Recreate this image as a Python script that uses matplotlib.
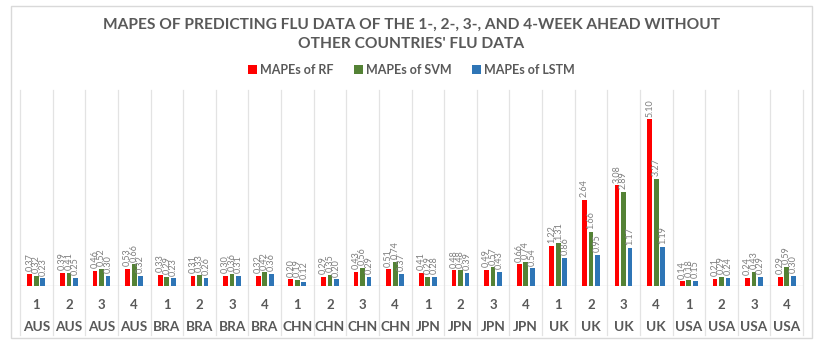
import matplotlib
matplotlib.use("Agg")
import matplotlib.pyplot as plt
from matplotlib.patches import Rectangle, Patch
import numpy as np

plt.rcParams['font.family'] = ['Lato', 'DejaVu Sans']

countries = ["AUS"] * 4 + ["BRA"] * 4 + ["CHN"] * 4 + ["JPN"] * 4 + ["UK"] * 4 + ["USA"] * 4
weeks = ["1", "2", "3", "4"] * 6
rf = [0.37, 0.39, 0.46, 0.53, 0.33, 0.31, 0.30, 0.32, 0.20, 0.29, 0.43, 0.51,
      0.41, 0.48, 0.49, 0.66, 1.22, 2.64, 3.08, 5.10, 0.14, 0.21, 0.24, 0.29]
svm = [0.32, 0.41, 0.52, 0.66, 0.29, 0.33, 0.36, 0.42, 0.19, 0.35, 0.56, 0.74,
       0.29, 0.48, 0.57, 0.74, 1.31, 1.66, 2.89, 3.27, 0.18, 0.29, 0.43, 0.59]
lstm = [0.23, 0.25, 0.30, 0.32, 0.23, 0.26, 0.31, 0.36, 0.12, 0.20, 0.29, 0.37,
        0.28, 0.39, 0.43, 0.54, 0.86, 0.95, 1.17, 1.19, 0.15, 0.24, 0.29, 0.30]
series_names = ["MAPEs of RF", "MAPEs of SVM", "MAPEs of LSTM"]
colors = ["#FF0000", "#548235", "#2E75B6"]
title = "MAPES OF PREDICTING FLU DATA OF THE 1-, 2-, 3-, AND 4-WEEK AHEAD WITHOUT\nOTHER COUNTRIES' FLU DATA"

W, H = 823, 347
fig = plt.figure(figsize=(W / 100, H / 100), dpi=100)
fig.patch.set_facecolor("white")

# chart border
fig.patches.append(Rectangle((11 / W, 1 - 338 / H), (812 - 11) / W, (338 - 6) / H,
                             transform=fig.transFigure, fill=False,
                             edgecolor="#D9D9D9", lw=1.0))

left, right, top, bottom = 20, 803, 90, 286
ax = fig.add_axes([left / W, 1 - bottom / H, (right - left) / W, (bottom - top) / H])
n = len(rf)
x = np.arange(n)
ax.set_xlim(-0.5, n - 0.5)
ax.set_ylim(0, 6)
for s in ax.spines.values():
    s.set_visible(False)
ax.set_xticks([])
ax.set_yticks([])

gray = "#595959"
bw = 0.145
offs = [-0.2, 0.0, 0.2]
for vals, c, o, name in zip([rf, svm, lstm], colors, offs, series_names):
    ax.bar(x + o, vals, width=bw, color=c, label=name, zorder=3)
    for xi, v in zip(x, vals):
        ax.annotate(f"{v:.2f}", (xi + o, v), xytext=(0, 2), textcoords="offset points",
                    rotation=90, ha="center", va="bottom", fontsize=6.5,
                    color="#7F7F7F", zorder=4)

# baseline
ax.axhline(0, color="#D9D9D9", lw=1.0, zorder=2)
# group separators (through plot and category area)
y_low = (bottom - 335) / (bottom - top)
for k in range(n + 1):
    ax.plot([k - 0.5, k - 0.5], [y_low, 1], transform=ax.get_xaxis_transform(),
            color="#E3E3E3", lw=0.9, clip_on=False, zorder=1)

# category labels
yw = (bottom - 305) / (bottom - top)
yc = (bottom - 327) / (bottom - top)
for xi, w, c in zip(x, weeks, countries):
    ax.text(xi, yw, w, transform=ax.get_xaxis_transform(), ha="center", va="center",
            fontsize=9.5, fontweight="bold", color=gray)
    ax.text(xi, yc, c, transform=ax.get_xaxis_transform(), ha="center", va="center",
            fontsize=9.8, fontweight="bold", color=gray)

fig.text(0.5, 1 - 34.5 / H, title, ha="center", va="center", fontsize=11.2,
         fontweight="bold", color=gray, linespacing=1.45)

handles = [Patch(facecolor=c, edgecolor="none") for c in colors]
fig.legend(handles, series_names, loc="center", bbox_to_anchor=(0.5, 1 - 70 / H),
           ncol=3, frameon=False, prop={"size": 9, "weight": "bold"}, labelcolor=gray,
           handlelength=0.7, handleheight=0.7, handletextpad=0.3, columnspacing=1.6)

fig.savefig("out.png", dpi=100, facecolor="white")
